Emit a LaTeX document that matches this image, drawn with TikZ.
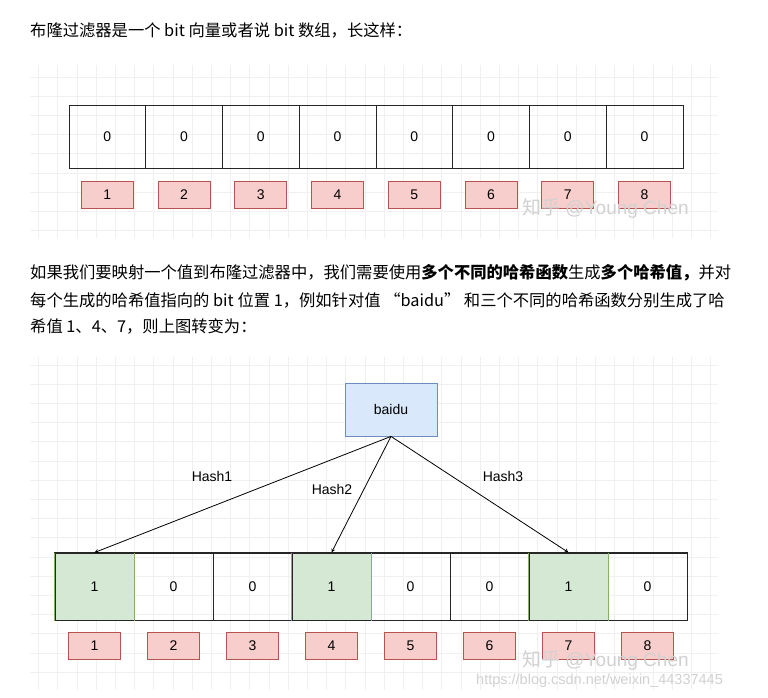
\documentclass[tikz,border=0pt]{standalone}
\usepackage{fontspec}
\setmainfont{Liberation Sans}
\newfontfamily\cjk{Noto Sans CJK SC}
\definecolor{gfill}{HTML}{D5E8D4}
\definecolor{gline}{HTML}{82B366}
\definecolor{bfill}{HTML}{DAE8FC}
\definecolor{bline}{HTML}{6C8EBF}
\definecolor{rfill}{HTML}{F8CECC}
\definecolor{rline}{HTML}{B85450}
\begin{document}
\begin{tikzpicture}[x=1pt,y=-1pt,
 cell/.style={draw=black!85,line width=1pt,minimum width=76.75pt,minimum height=63pt,inner sep=0pt,font=\fontsize{14}{15}\selectfont},
 cellb/.style={draw=black!85,line width=1pt,minimum width=79pt,minimum height=67pt,inner sep=0pt,font=\fontsize{14}{15}\selectfont},
 lab/.style={draw=rline,fill=rfill,line width=0.8pt,minimum width=52pt,minimum height=27pt,inner sep=0pt,font=\fontsize{14}{15}\selectfont},
 par/.style={anchor=west,inner sep=0pt,font=\cjk\fontsize{16.3}{18}\selectfont},
 wm/.style={text=black!18,inner sep=0pt,anchor=west},
 lbl/.style={font=\fontsize{14}{15}\selectfont},
 grid/.style={draw=black!6,line width=0.5pt}]
\useasboundingbox (0,0) rectangle (768,697);
\fill[white] (0,0) rectangle (768,697);
\draw[grid,xstep=19.2pt,ystep=19.2pt] (30,65) grid (718,238);
\draw[grid,xstep=19.2pt,ystep=19.2pt] (30,357) grid (718,690);
\node[par] (t1) at (30,30) {布隆过滤器是一个 bit 向量或者说 bit 数组，长这样：};
\foreach \i in {1,...,8}{
 \node[cell] (a\i) at ({69+76.75*(\i-0.5)},136.5) {0};
 \node[lab] (la\i) at ({69+76.75*(\i-0.5)},194.5) {\i};
}
\node[par] (t2) at (30,273) {如果我们要映射一个值到布隆过滤器中，我们需要使用\textbf{多个不同的哈希函数}生成\textbf{多个哈希值，}并对};
\node[par] (t3) at (30,300) {每个生成的哈希值指向的 bit 位置 1，例如针对值 “baidu” 和三个不同的哈希函数分别生成了哈};
\node[par] (t4) at (30,326) {希值 1、4、7，则上图转变为：};
\node[draw=bline,fill=bfill,line width=0.8pt,minimum width=92pt,minimum height=53pt,lbl] (bd) at (391,409.5) {baidu};
\foreach \i/\v in {1/1,2/0,3/0,4/1,5/0,6/0,7/1,8/0}{
 \ifnum\v=1
 \node[cellb,fill=gfill] (b\i) at ({55+79*(\i-0.5)},586.5) {\v};
 \else
 \node[cellb] (b\i) at ({55+79*(\i-0.5)},586.5) {\v};
 \fi
 \node[lab] (lb\i) at ({55+79*(\i-0.5)},646) {\i};
}
\draw[black!85,line width=1pt] (b1.north west) rectangle (b8.south east);
\foreach \i in {1,4,7}{\draw[gline,line width=1pt] (b\i.north west) -- (b\i.south west) (b\i.north east) -- (b\i.south east);}
\draw[-stealth,line width=0.8pt] (bd.south) -- (b1.north);
\draw[-stealth,line width=0.8pt] (bd.south) -- (b4.north);
\draw[-stealth,line width=0.8pt] (bd.south) -- (b7.north);
\node[lbl] (h1) at (212,476) {Hash1};
\node[lbl] (h2) at (332,489) {Hash2};
\node[lbl] (h3) at (503,476) {Hash3};
\node[wm,font=\fontsize{19}{20}\selectfont] (w1) at (522,208) {{\cjk 知乎} @Young Chen};
\node[wm,font=\fontsize{19}{20}\selectfont] (w2) at (522,660) {{\cjk 知乎} @Young Chen};
\node[wm,font=\fontsize{14.5}{15}\selectfont] (w3) at (476,681) {https://blog.csdn.net/weixin\_44337445};
\end{tikzpicture}
\end{document}
